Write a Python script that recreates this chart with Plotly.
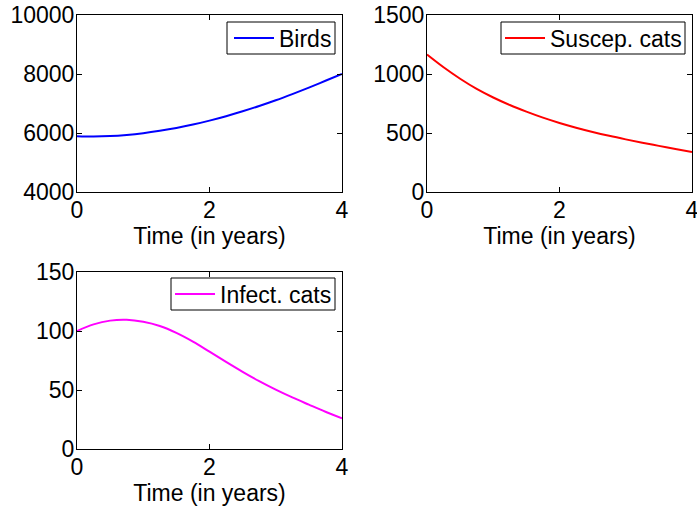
import plotly.graph_objects as go

# Time samples (years)
t = [0, 0.25, 0.5, 0.75, 1, 1.25, 1.5, 1.75, 2, 2.25, 2.5, 2.75, 3, 3.25, 3.5, 3.75, 4]

# Population sizes over time
birds = [5890, 5880, 5895, 5935, 5995, 6075, 6170, 6285, 6420, 6570, 6735, 6915, 7110, 7320, 7540, 7770, 8000]
suscep_cats = [1165, 1057, 960, 874, 801, 737, 681, 630, 585, 545, 509, 476, 446, 418, 391, 364, 338]
infect_cats = [100, 105.6, 108.8, 109.5, 107.8, 104.2, 98.4, 91.0, 82.5, 73.8, 65.4, 57.5, 50.3, 43.7, 37.6, 31.6, 26]

x_ticks = [0, 2, 4]
birds_ticks = [4000, 6000, 8000, 10000]
suscep_ticks = [0, 500, 1000, 1500]
infect_ticks = [0, 50, 100, 150]

FONT = "Liberation Sans, Arial, Helvetica, sans-serif"
FS = 23
W, H = 697, 508

fig = go.Figure()

fig.add_trace(go.Scatter(x=t, y=birds, mode="lines", name="Birds",
                         line=dict(color="#0000FF", width=2, shape="spline"),
                         xaxis="x", yaxis="y", legend="legend"))
fig.add_trace(go.Scatter(x=t, y=suscep_cats, mode="lines", name="Suscep. cats",
                         line=dict(color="#FF0000", width=2, shape="spline"),
                         xaxis="x2", yaxis="y2", legend="legend2"))
fig.add_trace(go.Scatter(x=t, y=infect_cats, mode="lines", name="Infect. cats",
                         line=dict(color="#FF00FF", width=2, shape="spline"),
                         xaxis="x3", yaxis="y3", legend="legend3"))


def px_x(v):
    return v / W


def px_y(v):
    return (H - v) / H


axis_common = dict(showline=True, linecolor="black", linewidth=1, mirror="ticks",
                   ticks="inside", ticklen=5, tickcolor="black", tickwidth=1,
                   showgrid=False, zeroline=False, automargin=False,
                   tickfont=dict(family=FONT, size=FS, color="black"))
yaxis_common = dict(axis_common, ticklabelstandoff=-3)
xaxis_common = dict(axis_common, ticklabelstandoff=-3, ticklabeloverflow="allow")

xdom_left = [px_x(77), px_x(342)]
xdom_right = [px_x(427), px_x(692)]
ydom_top = [px_y(192), px_y(15)]
ydom_bottom = [px_y(449), px_y(272)]

xtitle = dict(text="Time (in years)", font=dict(family=FONT, size=FS, color="black"), standoff=0)

# Legends carry the entries; the framed box around each is drawn as a shape
legend_common = dict(xanchor="right", yanchor="middle", bgcolor="rgba(0,0,0,0)",
                     borderwidth=0, itemwidth=40,
                     font=dict(family=FONT, size=FS, color="black"))

legend_boxes = [(227, 335, 22, 54), (501, 685, 22, 54), (171, 335, 278, 310)]

fig.update_layout(
    width=W, height=H,
    margin=dict(l=0, r=0, t=0, b=0),
    paper_bgcolor="white", plot_bgcolor="white",
    showlegend=True,
    xaxis=dict(domain=xdom_left, anchor="y", range=[0, 4], tickvals=x_ticks, title=xtitle, **xaxis_common),
    yaxis=dict(domain=ydom_top, anchor="x", range=[4000, 10000], tickvals=birds_ticks,
               ticktext=[str(v) for v in birds_ticks], **yaxis_common),
    xaxis2=dict(domain=xdom_right, anchor="y2", range=[0, 4], tickvals=x_ticks, title=xtitle, **xaxis_common),
    yaxis2=dict(domain=ydom_top, anchor="x2", range=[0, 1500], tickvals=suscep_ticks,
                ticktext=[str(v) for v in suscep_ticks], **yaxis_common),
    xaxis3=dict(domain=xdom_left, anchor="y3", range=[0, 4], tickvals=x_ticks, title=xtitle, **xaxis_common),
    yaxis3=dict(domain=ydom_bottom, anchor="x3", range=[0, 150], tickvals=infect_ticks,
                ticktext=[str(v) for v in infect_ticks], **yaxis_common),
    legend=dict(x=px_x(337), y=px_y(38), **legend_common),
    legend2=dict(x=px_x(687), y=px_y(38), **legend_common),
    legend3=dict(x=px_x(337), y=px_y(294), **legend_common),
)

for x0, x1, y0, y1 in legend_boxes:
    fig.add_shape(type="rect", xref="paper", yref="paper",
                  x0=px_x(x0), x1=px_x(x1), y0=px_y(y1), y1=px_y(y0),
                  line=dict(color="black", width=1), fillcolor="white", layer="below")

fig.write_html("out.html")
